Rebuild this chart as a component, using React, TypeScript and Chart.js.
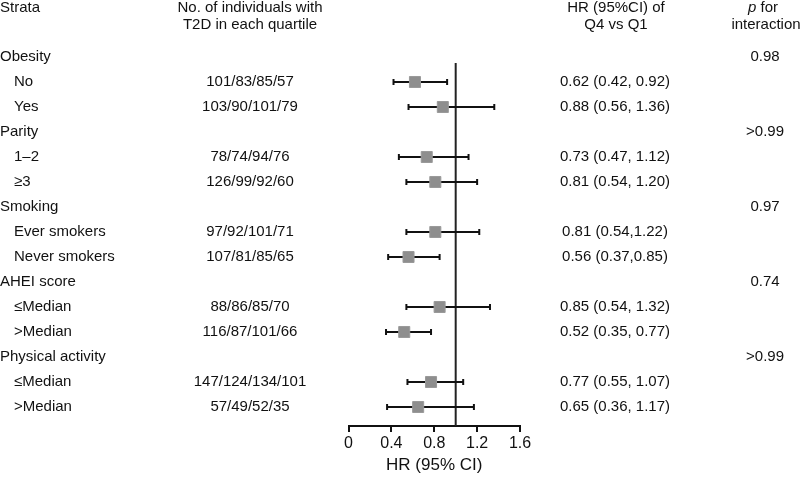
import React, { useEffect, useRef } from "react";
import { Chart, registerables } from "chart.js";

Chart.register(...registerables);

const STRATA = [
  "Obesity", "No", "Yes",
  "Parity", "1–2", "≥3",
  "Smoking", "Ever smokers", "Never smokers",
  "AHEI score", "≤Median", ">Median",
  "Physical activity", "≤Median", ">Median",
];
const IS_GROUP = [true, false, false, true, false, false, true, false, false, true, false, false, true, false, false];
const COUNTS = [
  "", "101/83/85/57", "103/90/101/79",
  "", "78/74/94/76", "126/99/92/60",
  "", "97/92/101/71", "107/81/85/65",
  "", "88/86/85/70", "116/87/101/66",
  "", "147/124/134/101", "57/49/52/35",
];
const HR = [null, 0.62, 0.88, null, 0.73, 0.81, null, 0.81, 0.56, null, 0.85, 0.52, null, 0.77, 0.65];
const LO = [null, 0.42, 0.56, null, 0.47, 0.54, null, 0.54, 0.37, null, 0.54, 0.35, null, 0.55, 0.36];
const HI = [null, 0.92, 1.36, null, 1.12, 1.2, null, 1.22, 0.85, null, 1.32, 0.77, null, 1.07, 1.17];
const HR_TEXT = [
  "", "0.62 (0.42, 0.92)", "0.88 (0.56, 1.36)",
  "", "0.73 (0.47, 1.12)", "0.81 (0.54, 1.20)",
  "", "0.81 (0.54,1.22)", "0.56 (0.37,0.85)",
  "", "0.85 (0.54, 1.32)", "0.52 (0.35, 0.77)",
  "", "0.77 (0.55, 1.07)", "0.65 (0.36, 1.17)",
];
const P_TEXT = ["0.98", "", "", ">0.99", "", "", "0.97", "", "", "0.74", "", "", ">0.99", "", ""];
const X_TICKS = [0, 0.4, 0.8, 1.2, 1.6];
const REF_VALUE = 1;
const HEADER_COL1 = ["Strata"];
const HEADER_COL2 = ["No. of individuals with", "T2D in each quartile"];
const HEADER_COL3 = ["HR (95%CI) of", "Q4 vs Q1"];
const HEADER_COL4 = ["p for", "interaction"];
const X_TITLE = "HR (95% CI)";

const Y_MIN = -2.28;
const Y_MAX = 14.76;
const FONT = "'Liberation Sans', Arial, Helvetica, sans-serif";

export default function App() {
  const ref = useRef<HTMLCanvasElement | null>(null);

  useEffect(() => {
    if (!ref.current) return;

    const whiskers = HR.map((v, i) =>
      v === null
        ? null
        : {
            type: "scatter" as const,
            data: [
              { x: LO[i], y: i },
              { x: HI[i], y: i },
            ],
            showLine: true,
            borderColor: "#111",
            borderWidth: 2,
            pointStyle: "line" as const,
            rotation: 90,
            pointRadius: 3,
            pointBorderWidth: 2,
            pointBorderColor: "#111",
            order: 2,
          }
    ).filter(Boolean) as any[];

    const textPlugin = {
      id: "forestText",
      afterDraw(chart: any) {
        const { ctx } = chart;
        const y = chart.scales.y;
        ctx.save();
        ctx.fillStyle = "#111";
        ctx.textBaseline = "middle";
        ctx.font = `15px ${FONT}`;
        const h1 = y.getPixelForValue(-1.96);
        const h2 = y.getPixelForValue(-1.3);
        ctx.textAlign = "left";
        ctx.fillText(HEADER_COL1[0], 0, h1);
        ctx.textAlign = "center";
        HEADER_COL2.forEach((t, k) => ctx.fillText(t, 250, k ? h2 : h1));
        HEADER_COL3.forEach((t, k) => ctx.fillText(t, 616, k ? h2 : h1));
        // "p for" with italic p
        ctx.font = `italic 15px ${FONT}`;
        const pW = ctx.measureText("p").width;
        ctx.font = `15px ${FONT}`;
        const restW = ctx.measureText(" for").width;
        const startX = 763 - (pW + restW) / 2;
        ctx.textAlign = "left";
        ctx.font = `italic 15px ${FONT}`;
        ctx.fillText("p", startX, h1);
        ctx.font = `15px ${FONT}`;
        ctx.fillText(" for", startX + pW, h1);
        ctx.textAlign = "center";
        ctx.fillText(HEADER_COL4[1], 766, h2);

        STRATA.forEach((label, i) => {
          const py = y.getPixelForValue(i);
          ctx.textAlign = "left";
          ctx.fillText(label, IS_GROUP[i] ? 0 : 14, py);
          ctx.textAlign = "center";
          if (COUNTS[i]) ctx.fillText(COUNTS[i], 250, py);
          if (HR_TEXT[i]) ctx.fillText(HR_TEXT[i], 615, py);
          if (P_TEXT[i]) ctx.fillText(P_TEXT[i], 765, py);
        });
        ctx.restore();
      },
    };

    const chart = new Chart(ref.current, {
      type: "scatter",
      data: {
        datasets: [
          {
            data: HR.map((v, i) => (v === null ? null : { x: v, y: i })).filter(Boolean) as any,
            pointStyle: "rect",
            pointRadius: 7.8,
            pointBackgroundColor: "#8e8e8e",
            pointBorderColor: "#9a9a9a",
            pointBorderWidth: 1,
            order: 0,
          } as any,
          {
            data: [
              { x: REF_VALUE, y: 0.24 },
              { x: REF_VALUE, y: Y_MAX },
            ],
            showLine: true,
            borderColor: "#222",
            borderWidth: 2,
            pointRadius: 0,
            order: 3,
          } as any,
          ...whiskers,
        ],
      },
      options: {
        animation: false,
        responsive: false,
        events: [],
        layout: { autoPadding: false, padding: { left: 348.5, right: 280, top: 0, bottom: 0 } },
        plugins: { legend: { display: false }, tooltip: { enabled: false } },
        scales: {
          x: {
            type: "linear",
            min: 0,
            max: 1.6,
            afterBuildTicks: (scale: any) => {
              scale.ticks = X_TICKS.map((v) => ({ value: v }));
            },
            afterFit: (scale: any) => {
              scale.height = 51;
            },
            border: { display: true, color: "#111", width: 2 },
            grid: { display: true, drawOnChartArea: false, drawTicks: true, tickLength: 6, color: "#111", lineWidth: 2 },
            ticks: {
              color: "#111",
              padding: 2,
              maxRotation: 0,
              font: { family: FONT, size: 16 },
              callback: (v: any) => String(v),
            },
            title: {
              display: true,
              text: X_TITLE,
              color: "#111",
              font: { family: FONT, size: 17 },
              padding: { top: 0, bottom: 1 },
            },
          },
          y: {
            type: "linear",
            display: false,
            reverse: true,
            min: Y_MIN,
            max: Y_MAX,
          },
        },
      },
      plugins: [textPlugin],
    } as any);

    return () => chart.destroy();
  }, []);

  return (
    <div style={{ position: "absolute", left: 0, top: 0, width: 800, height: 477, background: "#fff" }}>
      <canvas ref={ref} width={800} height={477} />
    </div>
  );
}
